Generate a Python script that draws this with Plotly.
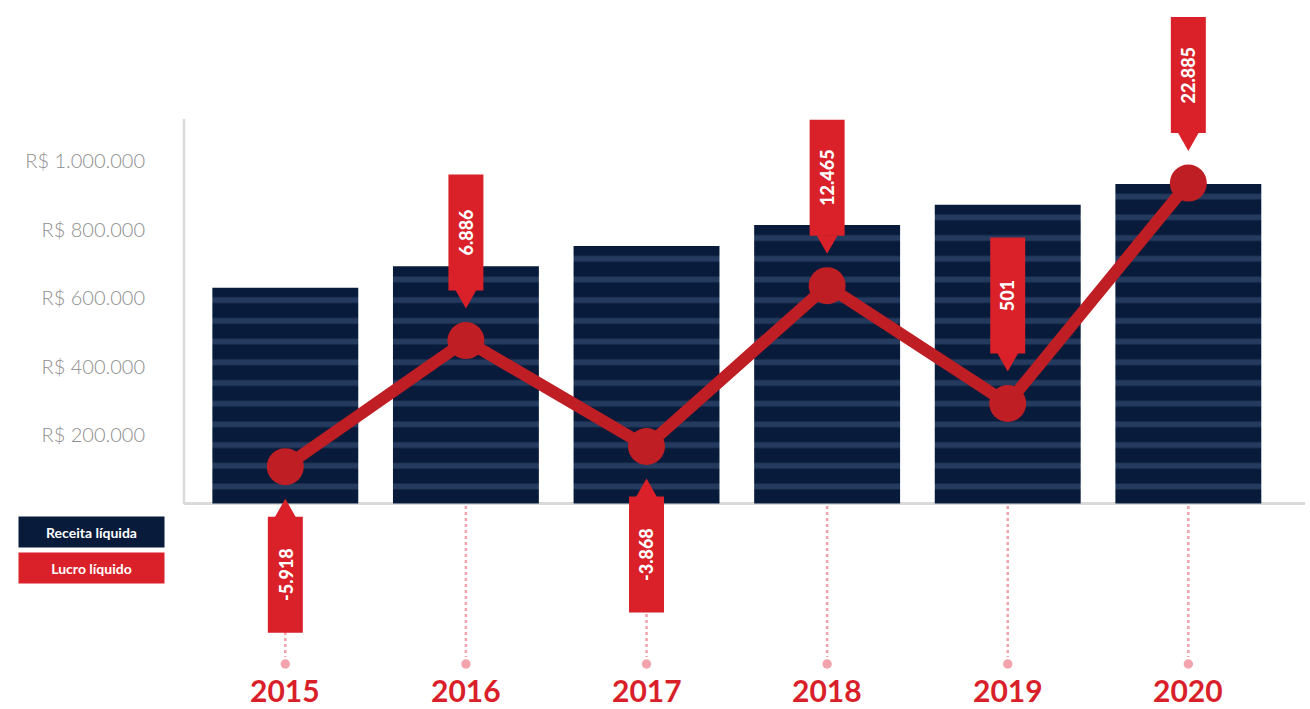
import plotly.graph_objects as go

# ---------------- data ----------------
years = ["2015", "2016", "2017", "2018", "2019", "2020"]
receita = [630000, 693000, 752000, 813000, 872000, 933000]          # Receita líquida (R$)
lucro = [-5918, 6886, -3868, 12465, 501, 22885]                     # Lucro líquido (R$ mil)
lucro_labels = ["-5.918", "6.886", "-3.868", "12.465", "501", "22.885"]
tick_vals = [200000, 400000, 600000, 800000, 1000000]
tick_text = ["R$ 200.000", "R$ 400.000", "R$ 600.000", "R$ 800.000", "R$ 1.000.000"]
legend_names = ["Receita líquida", "Lucro líquido"]

# ---------------- style ----------------
W, H = 1310, 709
ML, MR = 184, 5
NAVY = "#081b3a"
STRIPE = "#243b5f"
LINE_RED = "#be1e24"
CALL_RED = "#da2129"
YEAR_RED = "#d91f2a"
PINK = "#f2a3ac"
AXIS = "#dadada"
FONT = "Lato"

fig = go.Figure()

fig.add_trace(go.Bar(
    x=years, y=receita, name=legend_names[0], width=0.808,
    marker=dict(color=NAVY, line=dict(width=0),
                pattern=dict(shape="-", fgcolor=STRIPE, bgcolor=NAVY,
                             size=20.7, solidity=0.28, fillmode="replace")),
    hoverinfo="skip", showlegend=False,
))

fig.add_trace(go.Scatter(
    x=years, y=lucro, name=legend_names[1], yaxis="y2", mode="lines+markers",
    line=dict(color=LINE_RED, width=12),
    marker=dict(color=LINE_RED, size=37, line=dict(width=0)),
    hoverinfo="skip", showlegend=False, cliponaxis=False,
))

shapes = []
annotations = []

def py(p):
    """paper y from pixel row"""
    return 1 - p / H

# dotted guides + dots under each year
for i, yr in enumerate(years):
    shapes.append(dict(type="line", xref="x", yref="paper", x0=i, x1=i,
                       y0=py(506), y1=py(657), line=dict(color=PINK, width=2.5, dash="dot"),
                       layer="above"))
    shapes.append(dict(type="circle", xref="x", yref="paper", xsizemode="pixel", ysizemode="pixel",
                       xanchor=i, yanchor=py(664), x0=-4.7, x1=4.7, y0=-4.7, y1=4.7,
                       fillcolor=PINK, line=dict(width=0), layer="above"))

# y axis line
shapes.append(dict(type="line", xref="paper", yref="paper", x0=0, x1=0,
                   y0=py(504), y1=py(119), line=dict(color=AXIS, width=2.5), layer="below"))

# callouts
for i, (v, lab) in enumerate(zip(lucro, lucro_labels)):
    s = 1 if v >= 0 else -1
    shapes.append(dict(type="rect", xref="x", yref="y2", xsizemode="pixel", ysizemode="pixel",
                       xanchor=i, yanchor=v, x0=-17.5, x1=17.5, y0=s * 50, y1=s * 166,
                       fillcolor=CALL_RED, line=dict(width=0), layer="above"))
    shapes.append(dict(type="path", xref="x", yref="y2", xsizemode="pixel", ysizemode="pixel",
                       xanchor=i, yanchor=v,
                       path=f"M -10.5 {s*50.5} L 10.5 {s*50.5} L 0 {s*32} Z",
                       fillcolor=CALL_RED, line=dict(width=0), layer="above"))
    annotations.append(dict(x=i, y=v, xref="x", yref="y2", text=lab,
                            textangle=-90, showarrow=False, yshift=s * 108,
                            font=dict(family=FONT, size=18, color="white", weight=900)))

# year labels
for i, yr in enumerate(years):
    annotations.append(dict(x=i, y=py(690), xref="x", yref="paper", text=f"<b>{yr}</b>",
                            showarrow=False, yanchor="middle",
                            font=dict(family=FONT, size=30, color=YEAR_RED)))

# legend boxes
PW = W - ML - MR
for k, (name, col) in enumerate(zip(legend_names, [NAVY, CALL_RED])):
    cy = 532 + 36 * k
    annotations.append(dict(x=(91.5 - ML) / PW, y=py(cy), xref="paper", yref="paper",
                            text=f"<b>{name}</b>", showarrow=False, xanchor="center", yanchor="middle",
                            width=145, height=30, bgcolor=col, borderpad=0, align="center",
                            font=dict(family=FONT, size=14, color="white")))

y_top = 503.5 / 68.5 * 200000
y_bot = -(H - 503.5) / 68.5 * 200000
y2_top = 408.4 / 0.009844
y2_bot = -(H - 408.4) / 0.009844

fig.update_layout(
    width=W, height=H, margin=dict(l=ML, r=MR, t=0, b=0),
    paper_bgcolor="white", plot_bgcolor="white",
    xaxis=dict(type="category", range=[-0.561, 5.646], showticklabels=False, showgrid=False,
               zeroline=False, showline=False, ticks=""),
    yaxis=dict(range=[y_bot, y_top], tickvals=tick_vals, ticktext=tick_text, showgrid=False,
               zeroline=True, zerolinecolor=AXIS, zerolinewidth=2.5, showline=False, ticks="",
               ticklabelstandoff=38,
               tickfont=dict(family=FONT, size=20, color="#8e8e8e", weight=300)),
    yaxis2=dict(range=[y2_bot, y2_top], overlaying="y", showticklabels=False, showgrid=False,
                zeroline=False, showline=False, ticks=""),
    shapes=shapes, annotations=annotations, showlegend=False, bargap=0.2,
)

fig.write_html("out.html", config={"displayModeBar": False},
               post_script="document.body.style.margin='0';document.body.style.overflow='hidden';")
